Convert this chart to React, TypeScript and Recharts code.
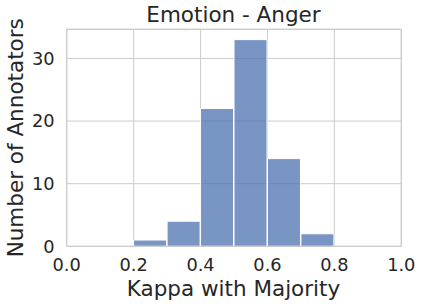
import React from 'react';
import { BarChart, Bar, XAxis, YAxis, CartesianGrid, ReferenceLine, Label } from 'recharts';

const binCenters = [0.05, 0.15, 0.25, 0.35, 0.45, 0.55, 0.65, 0.75, 0.85, 0.95];
const counts = [0, 0, 1, 4, 22, 33, 14, 2, 0, 0];
const xTicks = [0, 0.2, 0.4, 0.6, 0.8, 1.0];
const yTicks = [0, 10, 20, 30];

const data = binCenters.map((x, i) => ({ x, count: counts[i] }));

const FONT = 'DejaVu Sans';
const TEXT = '#262626';
const GRID = '#cccccc';

export default function App() {
  return (
    <div style={{ position: 'absolute', left: 0, top: 0, width: 423, height: 306, background: '#fff' }}>
      <BarChart
        width={423}
        height={306}
        data={data}
        margin={{ top: 29.3, right: 21.7, bottom: 0, left: 0 }}
        barCategoryGap={0}
        barGap={0}
      >
        <XAxis
          dataKey="x"
          type="number"
          domain={[0, 1]}
          allowDataOverflow
          ticks={xTicks}
          tickFormatter={(v: number) => v.toFixed(1)}
          height={59.7}
          axisLine={{ stroke: GRID, strokeWidth: 1.2 }}
          tickLine={false}
          tickSize={0}
          tickMargin={12}
          tick={{ fill: TEXT, fontSize: 17.8, fontFamily: FONT }}
        >
          <Label
            content={() => (
              <text x={233.5} y={295.7} textAnchor="middle" fill={TEXT} fontSize={21.5} fontFamily={FONT}>
                Kappa with Majority
              </text>
            )}
          />
        </XAxis>
        <YAxis
          domain={[0, 34.65]}
          allowDataOverflow
          ticks={yTicks}
          width={66.7}
          axisLine={{ stroke: GRID, strokeWidth: 1.2 }}
          tickLine={false}
          tickSize={0}
          tickMargin={12}
          tick={{ fill: TEXT, fontSize: 17.8, fontFamily: FONT }}
        >
          <Label
            content={() => (
              <text
                x={22.7}
                y={137.8}
                transform="rotate(-90, 22.7, 137.8)"
                textAnchor="middle"
                fill={TEXT}
                fontSize={21.5}
                fontFamily={FONT}
              >
                Number of Annotators
              </text>
            )}
          />
        </YAxis>
        <CartesianGrid stroke={GRID} strokeWidth={1} vertical horizontal />
        <ReferenceLine y={34.65} stroke={GRID} strokeWidth={1.2} />
        <ReferenceLine x={1} stroke={GRID} strokeWidth={1.2} />
        <Bar
          dataKey="count"
          fill="#4C72B0"
          fillOpacity={0.75}
          stroke="#ffffff"
          strokeWidth={1}
          isAnimationActive={false}
        />
      </BarChart>
      <div
        style={{
          position: 'absolute',
          left: 0,
          width: 467,
          top: 0,
          textAlign: 'center',
          fontFamily: FONT,
          fontSize: 21.5,
          color: TEXT,
          lineHeight: '30px',
          pointerEvents: 'none',
        }}
      >
        Emotion - Anger
      </div>
    </div>
  );
}
